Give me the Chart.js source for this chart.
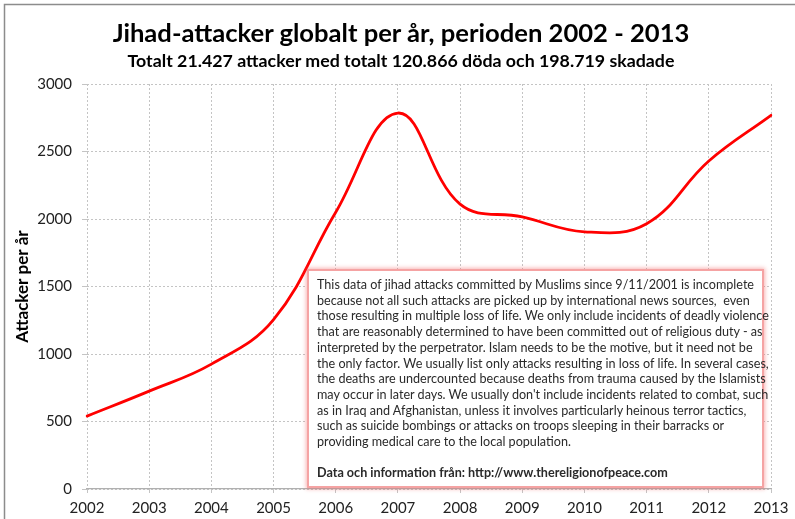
<!DOCTYPE html>
<html>
<head>
<meta charset="utf-8">
<script src="https://cdn.jsdelivr.net/npm/chart.js@4/dist/chart.umd.min.js"></script>
<style>
  body { margin: 0; background: #fff; }
  #wrap { position: relative; width: 795px; height: 519px; font-family: Lato, "Open Sans", sans-serif; }
  #title { position: absolute; left: 0; width: 802px; top: 15px; text-align: center;
    font-size: 25.6px; font-weight: bold; line-height: 34px; color: #000; }
  #sub { position: absolute; left: 0; width: 802px; top: 49px; text-align: center;
    font-size: 17.8px; font-weight: bold; line-height: 22px; color: #000; }
  #note {
    position: absolute; left: 307px; top: 269px; width: 457px; height: 219px;
    border: 2.5px solid #f5a3a3; box-shadow: 0 0 4px 1px rgba(240,90,90,0.45);
    background: #fff; font-size: 12.6px;
    line-height: 15.7px; color: #2a2a2a; padding: 6px 0 0 8px; box-sizing: border-box;
    white-space: nowrap;
  }
  #note b { display: block; margin-top: 15.7px; }
</style>
</head>
<body>
<div id="wrap">
  <canvas id="c" width="795" height="519"></canvas>
  <div id="title">Jihad-attacker globalt per år, perioden 2002 - 2013</div>
  <div id="sub">Totalt 21.427 attacker med totalt 120.866 döda och 198.719 skadade</div>
  <div id="note">This data of jihad attacks committed by Muslims since 9/11/2001 is incomplete<br>
because not all such attacks are picked up by international news sources,&nbsp; even<br>
those resulting in multiple loss of life. We only include incidents of deadly violence<br>
that are reasonably determined to have been committed out of religious duty - as<br>
interpreted by the perpetrator. Islam needs to be the motive, but it need not be<br>
the only factor. We usually list only attacks resulting in loss of life. In several cases,<br>
the deaths are undercounted because deaths from trauma caused by the Islamists<br>
may occur in later days. We usually don't include incidents related to combat, such<br>
as in Iraq and Afghanistan, unless it involves particularly heinous terror tactics,<br>
such as suicide bombings or attacks on troops sleeping in their barracks or<br>
providing medical care to the local population.
<b>Data och information från: http://www.thereligionofpeace.com</b></div>
</div>
<script>
// years and attacks per year
var years = ["2002","2003","2004","2005","2006","2007","2008","2009","2010","2011","2012","2013"];
var attacks = [540, 725, 925, 1255, 2050, 2785, 2110, 2015, 1905, 1965, 2430, 2768];
var yTicks = [0, 500, 1000, 1500, 2000, 2500, 3000];

var font = "Lato, 'Open Sans', sans-serif";

// white background + grey frame
var frame = {
  id: "frame",
  beforeDraw: function(chart){
    var ctx = chart.ctx;
    ctx.save();
    ctx.fillStyle = "#fff";
    ctx.fillRect(0, 0, chart.width, chart.height);
    ctx.strokeStyle = "#8c8c8c";
    ctx.lineWidth = 1.5;
    ctx.strokeRect(4.5, 4.5, chart.width - 3, chart.height + 10);
    ctx.restore();
  }
};

new Chart(document.getElementById("c"), {
  type: "line",
  data: {
    labels: years,
    datasets: [{
      data: attacks,
      borderColor: "#ff0000",
      borderWidth: 2.8,
      pointRadius: 0,
      tension: 0.4,
      fill: false
    }]
  },
  options: {
    responsive: false,
    animation: false,
    layout: { padding: { left: 0, right: 24, top: 84, bottom: 0 } },
    plugins: {
      legend: { display: false },
      tooltip: { enabled: false }
    },
    scales: {
      x: {
        type: "category",
        offset: false,
        grid: { color: "#c4c4c4", tickLength: 4, drawTicks: true, tickBorderDash: [] },
        border: { color: "#b0b0b0", width: 1.2, dash: [2, 2] },
        ticks: { color: "#222", font: { family: font, size: 15 }, padding: 6, maxRotation: 0 },
        afterFit: function(s){ s.height = 30; }
      },
      y: {
        min: 0, max: 3000,
        afterBuildTicks: function(s){ s.ticks = yTicks.map(function(v){ return { value: v }; }); },
        grid: { color: "#c4c4c4", tickLength: 5, tickBorderDash: [] },
        border: { display: false, dash: [2, 2] },
        ticks: {
          color: "#222", font: { family: font, size: 15 }, padding: 10,
          callback: function(v){ return String(v); }
        },
        title: {
          display: true,
          text: "Attacker per år",
          color: "#000",
          font: { family: font, size: 17, weight: "bold" },
          padding: { top: 12, bottom: 0 }
        },
        afterFit: function(s){ s.width = 87; }
      }
    },
    elements: { line: { borderCapStyle: "round" } }
  },
  plugins: [frame]
});
</script>
</body>
</html>
